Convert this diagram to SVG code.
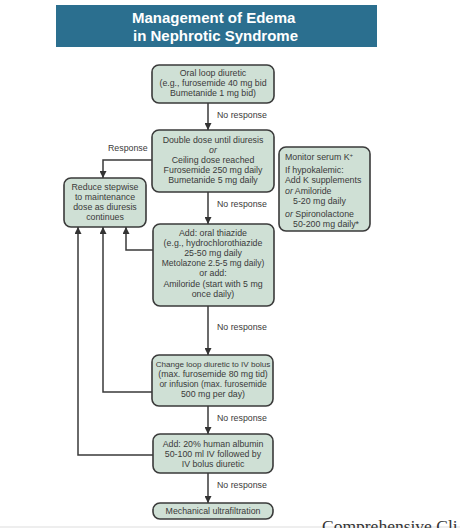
<svg xmlns="http://www.w3.org/2000/svg" width="460" height="528" viewBox="0 0 460 528">
<defs>
<marker id="ah" viewBox="0 0 8 8" refX="8" refY="4" markerUnits="userSpaceOnUse" markerWidth="7" markerHeight="7" orient="auto">
<path d="M0,0 L8,4 L0,8 z" fill="#333"/>
</marker>
<style>
.box{fill:#cfe0d5;stroke:#3a3a3a;stroke-width:1.6}
.t{font-family:"Liberation Sans",Arial,sans-serif;font-size:8.8px;fill:#3a3a3a;text-anchor:middle}
.tl{font-family:"Liberation Sans",Arial,sans-serif;font-size:8.8px;fill:#3a3a3a}
.lab{font-family:"Liberation Sans",Arial,sans-serif;font-size:8.8px;fill:#3a3a3a}
.c{fill:none;stroke:#3a3a3a;stroke-width:1.5;marker-end:url(#ah)}
</style>
</defs>
<rect width="460" height="528" fill="#ffffff"/>
<g id="title">
<rect x="56" y="5" width="321" height="42" fill="#2b6f8f"/>
<text x="132" y="23" font-family="'Liberation Sans',Arial,sans-serif" font-weight="bold" font-size="15" fill="#ffffff">Management of Edema</text>
<text x="133" y="41" font-family="'Liberation Sans',Arial,sans-serif" font-weight="bold" font-size="15" fill="#ffffff">in Nephrotic Syndrome</text>
</g>
<g id="connectors">
<path class="c" d="M208,103 V130"/>
<path class="c" d="M208,192 V224"/>
<path class="c" d="M208,306 V355"/>
<path class="c" d="M208,406 V434"/>
<path class="c" d="M208,473 V503"/>
<path class="c" d="M152,160 H103 V178"/>
<path class="c" d="M153,250 H126 V227"/>
<path class="c" d="M152,392 H103 V227"/>
<path class="c" d="M153,455 H78 V227"/>
<text class="lab" x="217" y="118">No response</text>
<text class="lab" x="108" y="151">Response</text>
<text class="lab" x="217" y="207">No response</text>
<text class="lab" x="217" y="330">No response</text>
<text class="lab" x="217" y="421">No response</text>
<text class="lab" x="217" y="488">No response</text>
</g>
<g id="n1">
<rect class="box" x="152" y="65" width="122" height="38" rx="7"/>
<text class="t" x="213" y="76">Oral loop diuretic</text>
<text class="t" x="213" y="86">(e.g., furosemide 40 mg bid</text>
<text class="t" x="213" y="96">Bumetanide 1 mg bid)</text>
</g>
<g id="n2">
<rect class="box" x="152" y="130" width="122" height="62" rx="7"/>
<text class="t" x="213" y="143">Double dose until diuresis</text>
<text class="t" x="213" y="153" font-style="italic">or</text>
<text class="t" x="213" y="163">Ceiling dose reached</text>
<text class="t" x="213" y="173">Furosemide 250 mg daily</text>
<text class="t" x="213" y="183">Bumetanide 5 mg daily</text>
</g>
<g id="n-reduce">
<rect class="box" x="64" y="178" width="82" height="49" rx="7"/>
<text class="t" x="105" y="190">Reduce stepwise</text>
<text class="t" x="105" y="200">to maintenance</text>
<text class="t" x="105" y="210">dose as diuresis</text>
<text class="t" x="105" y="220">continues</text>
</g>
<g id="n-monitor">
<rect class="box" x="279" y="147" width="91" height="84" rx="7"/>
<text class="tl" x="285" y="160">Monitor serum K<tspan style="font-size:6px" dy="-3">+</tspan></text>
<text class="tl" x="285" y="173">If hypokalemic:</text>
<text class="tl" x="285" y="183">Add K supplements</text>
<text class="tl" x="285" y="194"><tspan font-style="italic">or</tspan> Amiloride</text>
<text class="tl" x="293" y="204">5-20 mg daily</text>
<text class="tl" x="285" y="217"><tspan font-style="italic">or</tspan> Spironolactone</text>
<text class="tl" x="293" y="227">50-200 mg daily*</text>
</g>
<g id="n3">
<rect class="box" x="153" y="224" width="121" height="82" rx="7"/>
<text class="t" x="213" y="236">Add: oral thiazide</text>
<text class="t" x="213" y="246">(e.g., hydrochlorothiazide</text>
<text class="t" x="213" y="256">25-50 mg daily</text>
<text class="t" x="213" y="266" style="font-size:8.5px">Metolazone 2.5-5 mg daily)</text>
<text class="t" x="213" y="276">or add:</text>
<text class="t" x="213" y="287">Amiloride (start with 5 mg</text>
<text class="t" x="213" y="297">once daily)</text>
</g>
<g id="n4">
<rect class="box" x="152" y="355" width="121" height="51" rx="7"/>
<text class="t" x="213" y="367" style="font-size:8.1px">Change loop diuretic to IV bolus</text>
<text class="t" x="213" y="377">(max. furosemide 80 mg tid)</text>
<text class="t" x="213" y="387" style="font-size:8.5px">or infusion (max. furosemide</text>
<text class="t" x="213" y="397">500 mg per day)</text>
</g>
<g id="n5">
<rect class="box" x="153" y="434" width="120" height="39" rx="7"/>
<text class="t" x="213" y="447">Add: 20% human albumin</text>
<text class="t" x="213" y="457">50-100 ml IV followed by</text>
<text class="t" x="213" y="467">IV bolus diuretic</text>
</g>
<g id="n6">
<rect class="box" x="153" y="503" width="120" height="16" rx="7"/>
<text class="t" x="213" y="514">Mechanical ultrafiltration</text>
</g>
<line x1="0" y1="527" x2="460" y2="527" stroke="#dddddd" stroke-width="1"/>
<text x="322" y="532" font-family="'Liberation Serif','Times New Roman',serif" font-size="17.5" fill="#333333">Comprehensive Cli</text>
</svg>
